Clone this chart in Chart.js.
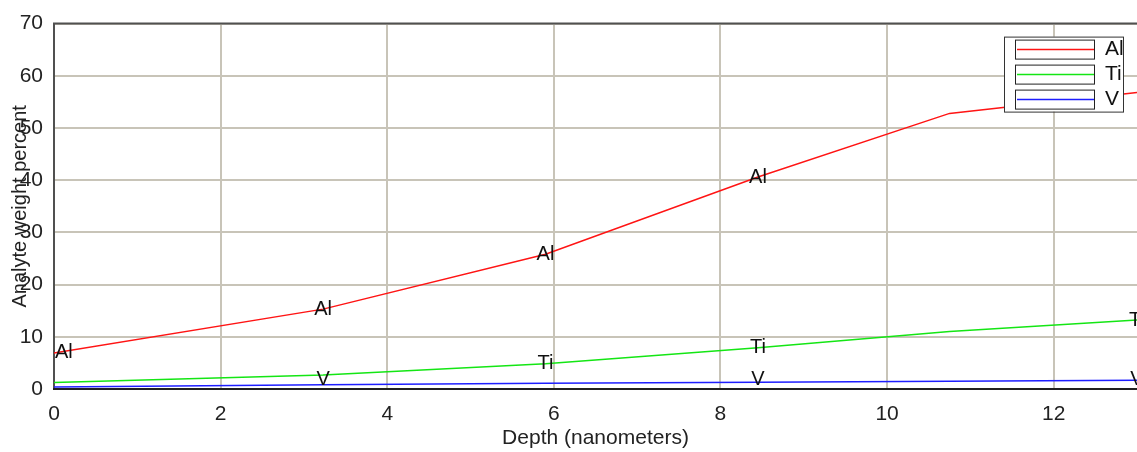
<!DOCTYPE html>
<html>
<head>
<meta charset="utf-8">
<script src="https://cdn.jsdelivr.net/npm/chart.js@4/dist/chart.umd.min.js"></script>
<style>
  html, body { margin: 0; padding: 0; background: #fff; }
  #wrap { width: 1137px; height: 452px; position: relative; }
</style>
</head>
<body>
<div id="wrap"><canvas id="chart"></canvas></div>
<script>
// depth samples (nanometers)
var depth = [0, 3.23, 5.9, 8.45, 10.75, 13];
var al = [6.9, 15.3, 25.8, 40.6, 52.8, 56.8];
var ti = [1.25, 2.7, 4.85, 7.9, 11.0, 13.2];
var v = [0.4, 0.8, 1.1, 1.3, 1.5, 1.7];

// which samples carry a text tag on the curve
var alTags = [0, 1, 2, 3];
var tiTags = [2, 3, 5];
var vTags = [1, 3, 5];

var yTicks = [0, 10, 20, 30, 40, 50, 60, 70];
var xTicks = [0, 2, 4, 6, 8, 10, 12];

var FONT = "'Liberation Sans', Arial, sans-serif";

function pts(ys) {
  return depth.map(function(d, i) { return { x: d, y: ys[i] }; });
}

// tags like "Al" drawn right on the line, kept inside left/bottom of the plot
var tagPlugin = {
  id: 'tags',
  afterDatasetsDraw: function(chart) {
    var ctx = chart.ctx, area = chart.chartArea;
    ctx.save();
    ctx.font = '20px ' + FONT;
    ctx.fillStyle = '#111';
    ctx.textAlign = 'left';
    ctx.textBaseline = 'middle';
    chart.data.datasets.forEach(function(ds, di) {
      var meta = chart.getDatasetMeta(di);
      ds.tags.forEach(function(idx) {
        var p = meta.data[idx];
        var w = ctx.measureText(ds.label).width;
        var x = Math.max(p.x - w / 2, area.left + 1);
        var y = Math.min(p.y, area.bottom - 10);
        ctx.fillText(ds.label, x, y);
      });
    });
    ctx.restore();
  }
};

// boxed legend in the top right corner of the plot
var legendPlugin = {
  id: 'boxLegend',
  afterDraw: function(chart) {
    var ctx = chart.ctx, area = chart.chartArea;
    var bx = area.right - 133, by = area.top + 13, bw = 119, bh = 75;
    ctx.save();
    ctx.fillStyle = '#fff';
    ctx.fillRect(bx, by, bw, bh);
    ctx.strokeStyle = '#333';
    ctx.lineWidth = 1;
    ctx.strokeRect(bx + 0.5, by + 0.5, bw, bh);
    ctx.font = '21px ' + FONT;
    ctx.textBaseline = 'middle';
    chart.data.datasets.forEach(function(ds, i) {
      var ry = by + 3 + i * 25;
      ctx.strokeStyle = '#222';
      ctx.strokeRect(bx + 11.5, ry + 0.5, 79, 19);
      ctx.strokeStyle = ds.borderColor;
      ctx.lineWidth = 1.5;
      ctx.beginPath();
      ctx.moveTo(bx + 13, ry + 10);
      ctx.lineTo(bx + 90, ry + 10);
      ctx.stroke();
      ctx.lineWidth = 1;
      ctx.fillStyle = '#111';
      ctx.fillText(ds.label, bx + 101, ry + 10);
    });
    ctx.restore();
  }
};

// dark frame around the plot
var framePlugin = {
  id: 'frame',
  beforeDatasetsDraw: function(chart) {
    var ctx = chart.ctx, a = chart.chartArea;
    ctx.save();
    ctx.strokeStyle = '#505050';
    ctx.lineWidth = 2;
    ctx.beginPath();
    ctx.moveTo(a.left, a.bottom);
    ctx.lineTo(a.left, a.top);
    ctx.lineTo(a.right + 2, a.top);
    ctx.stroke();
    ctx.strokeStyle = '#202020';
    ctx.beginPath();
    ctx.moveTo(a.left - 1, a.bottom);
    ctx.lineTo(a.right + 2, a.bottom);
    ctx.stroke();
    ctx.restore();
  }
};

new Chart(document.getElementById('chart'), {
  type: 'line',
  data: {
    datasets: [
      { label: 'Al', data: pts(al), tags: alTags, borderColor: 'rgb(255,20,20)' },
      { label: 'Ti', data: pts(ti), tags: tiTags, borderColor: 'rgb(20,230,20)' },
      { label: 'V', data: pts(v), tags: vTags, borderColor: 'rgb(30,30,255)' }
    ]
  },
  options: {
    responsive: true,
    maintainAspectRatio: false,
    animation: false,
    layout: { padding: 0 },
    elements: {
      line: { borderWidth: 1.5, tension: 0, fill: false },
      point: { radius: 0 }
    },
    plugins: {
      legend: { display: false },
      tooltip: { enabled: false }
    },
    scales: {
      x: {
        type: 'linear',
        min: 0,
        max: 13,
        afterFit: function(s) { s.height = 63; },
        afterBuildTicks: function(s) { s.ticks = xTicks.map(function(t) { return { value: t }; }); },
        ticks: { font: { size: 21, family: FONT }, color: '#222', padding: 13, maxRotation: 0 },
        grid: { color: '#c8c4b8', lineWidth: 2, drawTicks: false },
        border: { display: false },
        title: { display: true, text: 'Depth (nanometers)', font: { size: 21, family: FONT }, color: '#222', padding: { top: 0, bottom: 1 } }
      },
      y: {
        min: 0,
        max: 70,
        afterFit: function(s) { s.width = 54; },
        afterBuildTicks: function(s) { s.ticks = yTicks.map(function(t) { return { value: t }; }); },
        ticks: { font: { size: 21, family: FONT }, color: '#222', padding: 11 },
        grid: { color: '#c8c4b8', lineWidth: 2, drawTicks: false },
        border: { display: false },
        title: { display: true, text: 'Analyte weight percent', font: { size: 20, family: FONT }, color: '#222', padding: { top: 8, bottom: 0 } }
      }
    }
  },
  plugins: [framePlugin, tagPlugin, legendPlugin]
});
</script>
</body>
</html>
